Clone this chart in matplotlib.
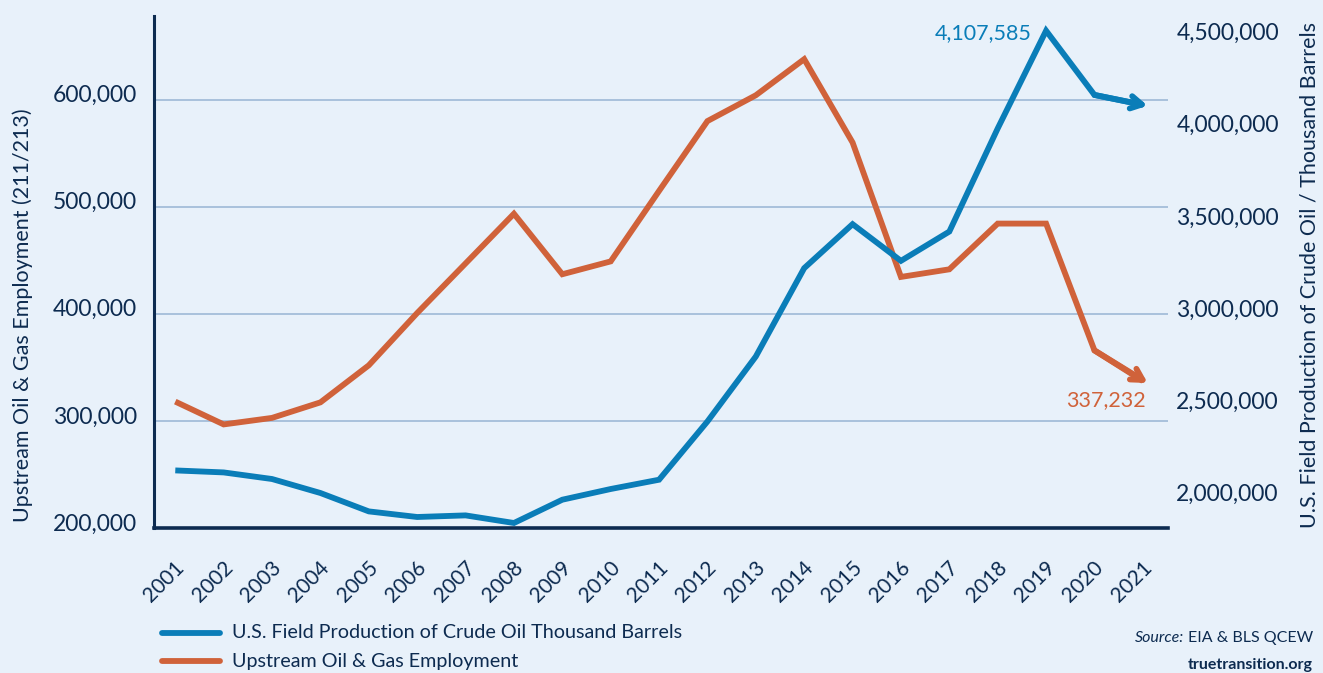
import matplotlib
matplotlib.use("Agg")
import matplotlib.pyplot as plt
from matplotlib.transforms import ScaledTranslation

# ---------------- data ----------------
years = [2001, 2002, 2003, 2004, 2005, 2006, 2007, 2008, 2009, 2010, 2011,
         2012, 2013, 2014, 2015, 2016, 2017, 2018, 2019, 2020, 2021]
employment = [318000, 296700, 302800, 317300, 351900, 400700, 447000, 493400,
              436900, 448900, 514700, 579900, 604000, 637700, 559900, 434400,
              441500, 484200, 484200, 365800, 337232]
crude_oil = [2117300, 2106400, 2070600, 1994600, 1894700, 1864300, 1873000,
             1831700, 1958200, 2016300, 2066800, 2383300, 2736200, 3216100,
             3455000, 3255700, 3414800, 3975000, 4506000, 4157000, 4103000]
left_ticks = [200000, 300000, 400000, 500000, 600000]
right_ticks = [2000000, 2500000, 3000000, 3500000, 4000000, 4500000]
blue_label = "4,107,585"
orange_label = "337,232"
series_names = ["U.S. Field Production of Crude Oil Thousand Barrels",
                "Upstream Oil & Gas Employment"]

# ---------------- style ----------------
BG = "#e8f1fa"
NAVY = "#0d2b50"
BLUE = "#0a7db8"
ORANGE = "#d0623a"
GRID = "#a9c1dc"
FONT = ["Lato", "DejaVu Sans"]
plt.rcParams["font.family"] = FONT

W, H, DPI = 1323, 673, 100
fig = plt.figure(figsize=(W / DPI, H / DPI), dpi=DPI, facecolor=BG)
L, R, B, T = 154 / W, 1168 / W, 1 - 528 / H, 1 - 16 / H
ax = fig.add_axes([L, B, R - L, T - B])
ax.set_facecolor(BG)
ax2 = ax.twinx()

ARROW = "->,head_length=0.8,head_width=0.45"

# left axis (employment)
ax.set_xlim(2000.56, 2021.52)
ax.set_ylim(202800, 678000)
ax.set_yticks(left_ticks)
ax.set_yticklabels([f"{v:,}" for v in left_ticks])
ax.set_xticks(years)
ax.set_xticklabels([str(y) for y in years])
for yv in left_ticks[1:]:
    ax.axhline(yv, color=GRID, lw=1.4, zorder=0)

ax.plot(years, employment, color=ORANGE, lw=4.2, solid_joinstyle="miter",
        solid_capstyle="butt", zorder=3)
ax.annotate("", xy=(years[-1] + 0.1, employment[-1] - 1900),
            xytext=(years[-2], employment[-2]),
            arrowprops=dict(arrowstyle=ARROW, color=ORANGE, lw=4.2,
                            shrinkA=0, shrinkB=0),
            zorder=3)

# right axis (crude oil)
ax2.set_ylim(1804500, 4585800)
ax2.set_yticks(right_ticks)
ax2.set_yticklabels([f"{v:,}" for v in right_ticks])
ax2.plot(years, crude_oil, color=BLUE, lw=4.2, solid_joinstyle="miter",
         solid_capstyle="butt", zorder=3)
ax2.annotate("", xy=(years[-1] + 0.1, crude_oil[-1] - 4500),
             xytext=(years[-2], crude_oil[-2]),
             arrowprops=dict(arrowstyle=ARROW, color=BLUE, lw=4.2,
                             shrinkA=0, shrinkB=0),
             zorder=3)

# spines
for a in (ax, ax2):
    for s in ("top", "right"):
        a.spines[s].set_visible(False)
ax2.spines["left"].set_visible(False)
ax2.spines["bottom"].set_visible(False)
ax.spines["left"].set_color(NAVY)
ax.spines["left"].set_linewidth(2.2)
ax.spines["bottom"].set_color(NAVY)
ax.spines["bottom"].set_linewidth(2.6)
ax.spines["bottom"].set_zorder(5)

# ticks
ax.tick_params(axis="y", length=0, pad=12, labelsize=16.5, labelcolor=NAVY)
ax.tick_params(axis="x", length=0, pad=26, labelsize=15, labelcolor=NAVY)
ax2.tick_params(axis="y", length=0, pad=6, labelsize=16.5, labelcolor=NAVY)
off = ScaledTranslation(0, 6 / DPI, fig.dpi_scale_trans)
for lab in ax.get_yticklabels():
    lab.set_transform(lab.get_transform() + off)
xoff = ScaledTranslation(6 / DPI, 0, fig.dpi_scale_trans)
for lab in ax.get_xticklabels():
    lab.set_rotation(45)
    lab.set_ha("right")
    lab.set_va("center")
    lab.set_rotation_mode("anchor")
    lab.set_transform(lab.get_transform() + xoff)

# axis titles
fig.text(23 / W, 1 - 315 / H, "Upstream Oil & Gas Employment (211/213)",
         rotation=90, ha="center", va="center", fontsize=15.5, color=NAVY)
fig.text(1310 / W, 1 - 275 / H,
         "U.S. Field Production of Crude Oil / Thousand Barrels",
         rotation=90, ha="center", va="center", fontsize=15.5, color=NAVY)

# value labels
fig.text(1032 / W, 1 - 33 / H, blue_label, ha="right", va="center",
         fontsize=15.5, color=BLUE)
fig.text(1146 / W, 1 - 400 / H, orange_label, ha="right", va="center",
         fontsize=15.5, color=ORANGE)

# legend (manual)
for i, (name, col) in enumerate(zip(series_names, [BLUE, ORANGE])):
    yy = 1 - (633 + 28 * i) / H
    fig.add_artist(plt.Line2D([162 / W, 220 / W], [yy, yy], color=col,
                              lw=4.2, solid_capstyle="round"))
    fig.text(232 / W, yy, name, ha="left", va="center", fontsize=14.2,
             color=NAVY)

# source
src = fig.text(1313 / W, 1 - 638 / H, "EIA & BLS QCEW", ha="right",
               va="center", fontsize=11.5, color=NAVY)
fig.canvas.draw()
bb = src.get_window_extent()
fig.text(bb.x0 - 4, bb.y0 + bb.height / 2, "Source:", ha="right",
         va="center", fontsize=11.5, color=NAVY, style="italic",
         transform=None)
fig.text(1313 / W, 1 - 665 / H, "truetransition.org", ha="right",
         va="center", fontsize=11.5, color=NAVY, fontweight="bold")

fig.savefig("out.png", dpi=DPI, facecolor=BG)
